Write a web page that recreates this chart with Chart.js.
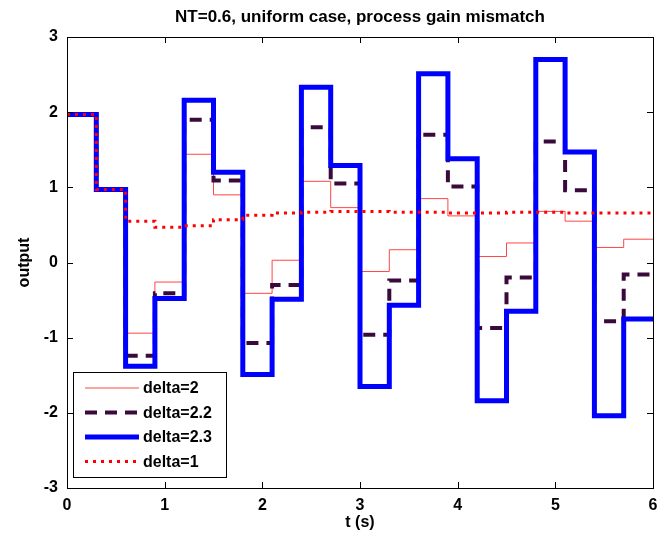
<!DOCTYPE html>
<html>
<head>
<meta charset="utf-8">
<script src="https://cdn.jsdelivr.net/npm/chart.js@4/dist/chart.umd.min.js"></script>
<style>
  html, body { margin: 0; padding: 0; background: #fff; }
  canvas { display: block; }
</style>
</head>
<body>
<canvas id="chart" width="670" height="535"></canvas>
<script>
// sample instants (s), one value per 0.3 s hold interval, last point closes the final step
const times = [0, 0.3, 0.6, 0.9, 1.2, 1.5, 1.8, 2.1, 2.4, 2.7, 3.0, 3.3, 3.6, 3.9, 4.2, 4.5, 4.8, 5.1, 5.4, 5.7, 6.0];

const delta2 = [1.97, 0.97, -0.94, -0.26, 1.44, 0.90, -0.41, 0.03, 1.08, 0.73, -0.12, 0.17, 0.85, 0.62, 0.08, 0.26, 0.68, 0.55, 0.20, 0.31, 0.31];
const delta22 = [1.97, 0.97, -1.24, -0.41, 1.90, 1.09, -1.07, -0.30, 1.80, 1.05, -0.96, -0.24, 1.70, 1.01, -0.87, -0.20, 1.61, 0.96, -0.78, -0.16, -0.16];
const delta23 = [1.97, 0.97, -1.38, -0.48, 2.16, 1.20, -1.49, -0.49, 2.33, 1.29, -1.65, -0.57, 2.51, 1.38, -1.84, -0.65, 2.70, 1.47, -2.04, -0.75, -0.75];
const delta1 = [1.97, 0.97, 0.55, 0.47, 0.49, 0.57, 0.63, 0.66, 0.67, 0.68, 0.68, 0.67, 0.67, 0.66, 0.66, 0.67, 0.67, 0.66, 0.66, 0.66, 0.66];

const xTicks = [0, 1, 2, 3, 4, 5, 6];
const yTicks = [-3, -2, -1, 0, 1, 2, 3];

const FONT = 'Liberation Sans, Arial, Helvetica, sans-serif';

function toPoints(values) {
    return times.map((t, i) => ({x: t, y: values[i]}));
}

// matlab style box with inward ticks on every side
const boxTicks = {
    id: 'boxTicks',
    afterDatasetsDraw(chart) {
        const {ctx, chartArea: a, scales} = chart;
        const len = 6;
        ctx.save();
        ctx.strokeStyle = '#000';
        ctx.lineWidth = 1;
        ctx.beginPath();
        xTicks.forEach(v => {
            const px = Math.round(scales.x.getPixelForValue(v)) + 0.5;
            ctx.moveTo(px, a.bottom); ctx.lineTo(px, a.bottom - len);
            ctx.moveTo(px, a.top); ctx.lineTo(px, a.top + len);
        });
        yTicks.forEach(v => {
            const py = Math.round(scales.y.getPixelForValue(v)) + 0.5;
            ctx.moveTo(a.left, py); ctx.lineTo(a.left + len, py);
            ctx.moveTo(a.right, py); ctx.lineTo(a.right - len, py);
        });
        ctx.stroke();
        ctx.strokeRect(Math.round(a.left) + 0.5, Math.round(a.top) + 0.5,
            Math.round(a.right - a.left), Math.round(a.bottom - a.top));
        ctx.restore();
    }
};

// legend box in the lower left corner of the axes
const boxLegend = {
    id: 'boxLegend',
    afterDraw(chart) {
        const {ctx, chartArea: a} = chart;
        const x0 = a.left + 6, y0 = a.bottom - 116, w = 153, h = 105;
        ctx.save();
        ctx.fillStyle = '#fff';
        ctx.fillRect(x0, y0, w, h);
        ctx.strokeStyle = '#000';
        ctx.lineWidth = 1;
        ctx.strokeRect(x0 + 0.5, y0 + 0.5, w, h);
        chart.data.datasets.forEach((ds, i) => {
            const y = y0 + 16 + i * 24.5;
            ctx.beginPath();
            ctx.strokeStyle = ds.borderColor;
            ctx.lineWidth = ds.borderWidth;
            ctx.setLineDash(ds.borderDash || []);
            ctx.moveTo(x0 + 12, y);
            ctx.lineTo(x0 + 66, y);
            ctx.stroke();
            ctx.setLineDash([]);
            ctx.fillStyle = '#000';
            ctx.font = 'bold 16px ' + FONT;
            ctx.textBaseline = 'middle';
            ctx.fillText(ds.label, x0 + 70, y + 1);
        });
        ctx.restore();
    }
};

new Chart(document.getElementById('chart'), {
    type: 'line',
    data: {
        datasets: [
            {label: 'delta=2', data: toPoints(delta2), borderColor: '#ff4646', borderWidth: 1, order: 4},
            {label: 'delta=2.2', data: toPoints(delta22), borderColor: '#3a0a3c', borderWidth: 4, borderDash: [12, 8], order: 3},
            {label: 'delta=2.3', data: toPoints(delta23), borderColor: '#0000ff', borderWidth: 5, order: 2},
            {label: 'delta=1', data: toPoints(delta1), borderColor: '#ff0000', borderWidth: 3, borderDash: [3, 5], order: 1},
        ]
    },
    options: {
        responsive: false,
        animation: false,
        parsing: false,
        layout: {padding: {top: 0, right: 17, bottom: 0, left: 0}},
        elements: {
            line: {stepped: 'before', fill: false, borderCapStyle: 'butt', borderJoinStyle: 'miter'},
            point: {radius: 0, hoverRadius: 0}
        },
        plugins: {
            legend: {display: false},
            tooltip: {enabled: false},
            title: {
                display: true,
                fullSize: false,
                text: 'NT=0.6, uniform case, process gain mismatch',
                color: '#000',
                font: {family: FONT, size: 17, weight: 'bold'},
                padding: {top: 7, bottom: 9.6}
            }
        },
        scales: {
            x: {
                type: 'linear',
                min: 0,
                max: 6,
                afterBuildTicks(scale) { scale.ticks = xTicks.map(v => ({value: v})); },
                afterFit(scale) { scale.height = 47; },
                grid: {display: false, drawTicks: false},
                border: {display: false},
                ticks: {color: '#000', padding: 8, font: {family: FONT, size: 16, weight: 'bold'}},
                title: {display: true, text: 't (s)', color: '#000', padding: {top: 0, bottom: 3},
                    font: {family: FONT, size: 16, weight: 'bold'}}
            },
            y: {
                type: 'linear',
                min: -3,
                max: 3,
                afterBuildTicks(scale) { scale.ticks = yTicks.map(v => ({value: v})); },
                afterFit(scale) { scale.width = 67; },
                grid: {display: false, drawTicks: false},
                border: {display: false},
                ticks: {color: '#000', padding: 9, font: {family: FONT, size: 16, weight: 'bold'}},
                title: {display: true, text: 'output', color: '#000', padding: {top: 15, bottom: 0},
                    font: {family: FONT, size: 16, weight: 'bold'}}
            }
        }
    },
    plugins: [boxTicks, boxLegend]
});
</script>
</body>
</html>
